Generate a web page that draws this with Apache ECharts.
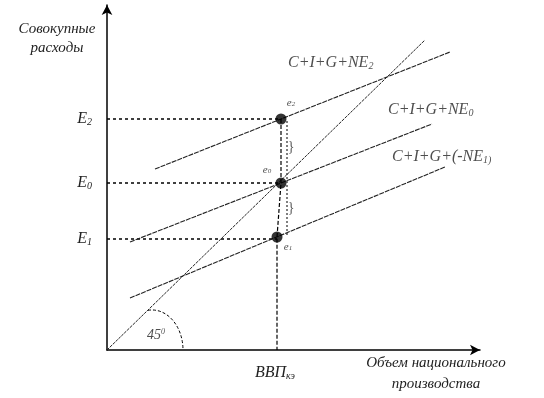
<!DOCTYPE html>
<html><head><meta charset="utf-8">
<script src="https://cdn.jsdelivr.net/npm/echarts@6/dist/echarts.min.js"></script>
<style>html,body{margin:0;padding:0;background:#fff}#c{width:544px;height:398px}</style>
</head><body><div id="c"></div>
<script>
// ---- data (abstract units: 1 unit ≈ 1 px) ----
const xMax = 373, yMax = 345;
const line45 = [[0, 0], [318, 310]];
const lineNE2 = [[48, 181], [343, 298]];
const lineNE0 = [[23, 108], [325, 226]];
const lineNE1 = [[23, 52], [338, 183]];
const eqPoints = [[174, 231], [174, 167], [170, 113]];
const eLevels = [231, 167, 111];
const eMain = ['E', 'E', 'E'];
const eSub = ['2', '0', '1'];
const gdpValue = 168;
const gdpMain = 'ВВП', gdpSub = 'кэ';
const gdpDrop = [[174, 231], [174, 167], [170, 113], [170, 0]];
const gapLine = [[180, 229], [180, 113]];
const lineLabelPos = [[181, 287], [281, 240], [285, 193]];
const lineLabelMain = ['C+I+G+NE', 'C+I+G+NE', 'C+I+G+(-NE'];
const lineLabelSub = ['2', '0', '1)'];
const pointLabelPos = [[184, 247], [160, 180], [181, 103]];
const pointLabelText = ['e2', 'e0', 'e1'];
const bracePos = [[184, 203], [184, 142]];
const angleLabelPos = [40, 15];
const arcCenter = [45, 0], arcRadii = [31, 40];
const yTitle = ['Совокупные', 'расходы'];
const xTitle = ['Объем национального', 'производства'];

const serif = "'Liberation Serif','Times New Roman',serif";
const txt = '#222';

function guideSegments() {
  return eLevels.map((v, i) => ({
    type: 'line', silent: true, symbol: 'none',
    data: [[0, v], [eqPoints[i][0], v]],
    lineStyle: { color: '#000', width: 1.5, type: [3, 3] }, z: 2
  }));
}
function lineSeries(d, extra) {
  return Object.assign({ type: 'line', data: d, symbol: 'none', silent: true,
    lineStyle: { color: '#222', width: 1.1, type: [5, 1] } }, extra || {});
}
function titleText(x, y, s) {
  return { type: 'text', x: x, y: y, style: { text: s, font: 'italic 15px ' + serif, fill: txt, align: 'center', verticalAlign: 'middle' } };
}

const option = {
  animation: false,
  backgroundColor: '#fff',
  grid: { left: 107, top: 5, right: 64, bottom: 48 },
  xAxis: {
    type: 'value', min: 0, max: xMax,
    axisLine: { show: true, onZero: false, symbol: ['none', 'arrow'], symbolSize: [8, 10], lineStyle: { color: '#000', width: 1.5 } },
    axisTick: { show: false }, splitLine: { show: false },
    axisLabel: {
      customValues: [gdpValue], margin: 14,
      formatter: () => '{m|' + gdpMain + '}{s|' + gdpSub + '}',
      rich: {
        m: { fontFamily: serif, fontStyle: 'italic', fontSize: 16, color: txt },
        s: { fontFamily: serif, fontStyle: 'italic', fontSize: 10, color: txt, padding: [7, 0, 0, 0] }
      }
    }
  },
  yAxis: {
    type: 'value', min: 0, max: yMax,
    axisLine: { show: true, onZero: false, symbol: ['none', 'arrow'], symbolSize: [8, 10], lineStyle: { color: '#000', width: 1.5 } },
    axisTick: { show: false }, splitLine: { show: false },
    axisLabel: {
      customValues: eLevels, margin: 15,
      formatter: (v) => { const i = eLevels.indexOf(v); return '{m|' + eMain[i] + '}{s|' + eSub[i] + '}'; },
      rich: {
        m: { fontFamily: serif, fontStyle: 'italic', fontSize: 16, color: txt },
        s: { fontFamily: serif, fontStyle: 'italic', fontSize: 10, color: txt, padding: [7, 0, 0, 0] }
      }
    }
  },
  graphic: [
    titleText(57, 29, yTitle[0]),
    titleText(57, 48, yTitle[1]),
    titleText(436, 363, xTitle[0]),
    titleText(436, 384, xTitle[1])
  ],
  series: [
    lineSeries(line45, { lineStyle: { color: '#222', width: 1, type: [3, 1] } }),
    lineSeries(lineNE2),
    lineSeries(lineNE0),
    lineSeries(lineNE1),
    ...guideSegments(),
    lineSeries(gdpDrop, { lineStyle: { color: '#000', width: 1.2, type: [4, 2] } }),
    lineSeries(gapLine, { lineStyle: { color: '#000', width: 1, type: [2, 2] } }),
    {
      type: 'scatter', data: eqPoints, symbolSize: 11, itemStyle: { color: '#000' }, z: 5, silent: true
    },
    {
      type: 'scatter', data: lineLabelPos, symbolSize: 0, silent: true,
      label: {
        show: true, position: 'right', distance: 0,
        formatter: (p) => '{m|' + lineLabelMain[p.dataIndex] + '}{s|' + lineLabelSub[p.dataIndex] + '}',
        rich: {
          m: { fontFamily: serif, fontStyle: 'italic', fontSize: 16, color: txt },
          s: { fontFamily: serif, fontStyle: 'italic', fontSize: 10, color: txt, padding: [6, 0, 0, 0] }
        }
      }
    },
    {
      type: 'scatter', data: pointLabelPos, symbolSize: 0, silent: true,
      label: {
        show: true, position: 'inside',
        formatter: (p) => '{m|' + pointLabelText[p.dataIndex][0] + '}{s|' + pointLabelText[p.dataIndex].slice(1) + '}',
        rich: {
          m: { fontFamily: serif, fontStyle: 'italic', fontSize: 11, color: txt },
          s: { fontFamily: serif, fontStyle: 'italic', fontSize: 7, color: txt, padding: [3, 0, 0, 0] }
        }
      }
    },
    {
      type: 'scatter', data: bracePos, symbolSize: 0, silent: true,
      label: { show: true, position: 'inside', formatter: '}', fontFamily: serif, fontSize: 14, color: '#333' }
    },
    {
      type: 'scatter', data: [angleLabelPos], symbolSize: 0, silent: true,
      label: {
        show: true, position: 'right', distance: 0,
        formatter: '{m|45}{s|0}',
        rich: {
          m: { fontFamily: serif, fontStyle: 'italic', fontSize: 14, color: txt },
          s: { fontFamily: serif, fontStyle: 'italic', fontSize: 8, color: txt, padding: [0, 0, 7, 0] }
        }
      }
    },
    {
      type: 'custom', silent: true, data: [arcCenter],
      renderItem: (params, api) => {
        const c = api.coord(arcCenter);
        const r = api.coord([arcCenter[0] + arcRadii[0], arcCenter[1] + arcRadii[1]]);
        const rx = r[0] - c[0], ry = c[1] - r[1];
        return {
          type: 'path',
          shape: { pathData: 'M ' + (c[0] - 4) + ' ' + (c[1] - ry + 0.3) + ' A ' + rx + ' ' + ry + ' 0 0 1 ' + (c[0] + rx) + ' ' + c[1] },
          style: { fill: null, stroke: '#000', lineWidth: 1, lineDash: [3, 2] }
        };
      }
    }
  ]
};
const chart = echarts.init(document.getElementById('c'), null, { renderer: 'canvas' });
chart.setOption(option);
</script>
</body></html>
